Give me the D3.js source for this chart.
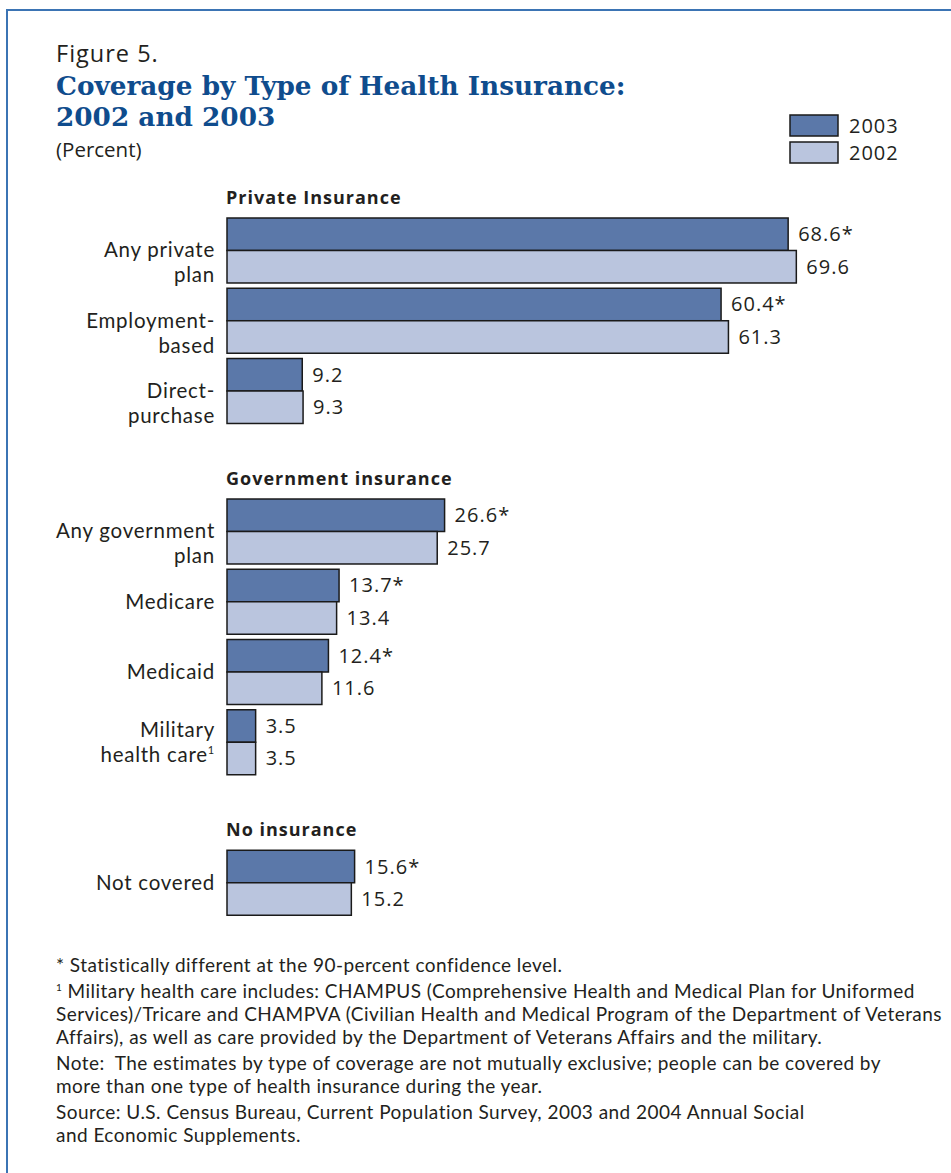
<!DOCTYPE html>
<html>
<head>
<meta charset="utf-8">
<script src="https://cdn.jsdelivr.net/npm/d3@7"></script>
<style>
  body { margin: 0; background: #fff; }
  svg { display: block; }
</style>
</head>
<body>
<svg id="chart" width="951" height="1173"></svg>
<script>
// data
const years = ['2003', '2002'];
const sections = ['Private Insurance', 'Government insurance', 'No insurance'];
const categories = ['Any private plan', 'Employment-based', 'Direct-purchase',
  'Any government plan', 'Medicare', 'Medicaid', 'Military health care', 'Not covered'];
const categorySection = [0, 0, 0, 1, 1, 1, 1, 2];
const values2003 = [68.6, 60.4, 9.2, 26.6, 13.7, 12.4, 3.5, 15.6];
const values2002 = [69.6, 61.3, 9.3, 25.7, 13.4, 11.6, 3.5, 15.2];
const signif2003 = [true, true, false, true, true, true, false, true];
const signif2002 = [false, false, false, false, false, false, false, false];

// how the category labels wrap
const labelLines = {
  'Any private plan': ['Any private', 'plan'],
  'Employment-based': ['Employment-', 'based'],
  'Direct-purchase': ['Direct-', 'purchase'],
  'Any government plan': ['Any government', 'plan'],
  'Medicare': ['Medicare'],
  'Medicaid': ['Medicaid'],
  'Military health care': ['Military', 'health care'],
  'Not covered': ['Not covered']
};

const footnotes = [
  {sup: '', text: '* Statistically different at the 90-percent confidence level.'},
  {sup: '1', text: ' Military health care includes: CHAMPUS (Comprehensive Health and Medical Plan for Uniformed'},
  {sup: '', text: 'Services)/Tricare and CHAMPVA (Civilian Health and Medical Program of the Department of Veterans'},
  {sup: '', text: 'Affairs), as well as care provided by the Department of Veterans Affairs and the military.'},
  {sup: '', text: 'Note:  The estimates by type of coverage are not mutually exclusive; people can be covered by'},
  {sup: '', text: 'more than one type of health insurance during the year.'},
  {sup: '', text: 'Source: U.S. Census Bureau, Current Population Survey, 2003 and 2004 Annual Social'},
  {sup: '', text: 'and Economic Supplements.'}
];
const footnoteY = [972, 998, 1021, 1044, 1070, 1093, 1119, 1142];

// colors
const DARK = '#5b78a9';
const LIGHT = '#bac5de';
const TITLE_BLUE = '#0f4c8d';
const BORDER = '#3b74b4';
const INK = '#231f20';

const SANS = '"Open Sans", "Noto Sans", sans-serif';
const TIGHT_SANS = 'Lato, "Open Sans", sans-serif';
const SERIF = '"DejaVu Serif", serif';

const svg = d3.select('#chart');

// build rows with a header slot before each section
const rows = categories.map((c, i) => ({
  name: c,
  section: categorySection[i],
  values: [
    {year: '2003', v: values2003[i], sig: signif2003[i]},
    {year: '2002', v: values2002[i], sig: signif2002[i]}
  ]
}));
const slots = [];
sections.forEach((s, si) => {
  slots.push('hdr:' + s);
  rows.filter(r => r.section === si).forEach(r => slots.push(r.name));
});

// scales
const x = d3.scaleLinear().domain([0, 100]).range([227, 1045]);
const y = d3.scaleBand().domain(slots).range([147.75, 915.25]).paddingInner(0.075).paddingOuter(0);
const yInner = d3.scaleBand().domain(years).range([0, y.bandwidth()]);
const color = d3.scaleOrdinal().domain(years).range([DARK, LIGHT]);

// border (top and left only)
svg.append('line').attr('x1', 6).attr('x2', 951).attr('y1', 10).attr('y2', 10)
  .attr('stroke', BORDER).attr('stroke-width', 2);
svg.append('line').attr('x1', 7).attr('x2', 7).attr('y1', 10).attr('y2', 1173)
  .attr('stroke', BORDER).attr('stroke-width', 2);

// titles
svg.append('text').attr('x', 56).attr('y', 62)
  .style('font-family', SANS).style('font-size', '23.5px').style('letter-spacing', '1px')
  .style('fill', INK).text('Figure 5.');
svg.append('text').attr('x', 56).attr('y', 95)
  .style('font-family', SERIF).style('font-weight', 'bold').style('font-size', '26.3px')
  .style('fill', TITLE_BLUE).text('Coverage by Type of Health Insurance:');
svg.append('text').attr('x', 56).attr('y', 126)
  .style('font-family', SERIF).style('font-weight', 'bold').style('font-size', '26.3px')
  .style('fill', TITLE_BLUE).text('2002 and 2003');
svg.append('text').attr('x', 56).attr('y', 157)
  .style('font-family', SANS).style('font-size', '20.5px')
  .style('fill', INK).text('(Percent)');

// legend
const legend = svg.append('g').selectAll('g').data(years).join('g')
  .attr('transform', (d, i) => `translate(790, ${115 + i * 27})`);
legend.append('rect').attr('width', 48).attr('height', 21)
  .attr('fill', d => color(d)).attr('stroke', '#1a1a1a').attr('stroke-width', 1.5);
legend.append('text').attr('x', 59).attr('y', 18)
  .style('font-family', SANS).style('font-size', '20px').style('letter-spacing', '1px')
  .style('fill', INK).text(d => d);

// section headers
svg.append('g').selectAll('text').data(sections).join('text')
  .attr('x', x(0) - 1)
  .attr('y', d => y('hdr:' + d) + y.bandwidth() - 9)
  .style('font-family', SANS).style('font-weight', 'bold').style('font-size', '18px')
  .style('letter-spacing', '1px').style('fill', INK)
  .text(d => d);

// bar groups
const groups = svg.append('g').selectAll('g').data(rows).join('g')
  .attr('transform', d => `translate(0, ${y(d.name)})`);

groups.selectAll('rect').data(d => d.values).join('rect')
  .attr('x', x(0))
  .attr('y', d => yInner(d.year))
  .attr('width', d => x(d.v) - x(0))
  .attr('height', yInner.bandwidth())
  .attr('fill', d => color(d.year))
  .attr('stroke', '#1a1a1a')
  .attr('stroke-width', 1.5);

groups.selectAll('text.val').data(d => d.values).join('text')
  .attr('class', 'val')
  .attr('x', d => x(d.v) + 10)
  .attr('y', d => yInner(d.year) + yInner.bandwidth() / 2 + 7)
  .style('font-family', SANS).style('font-size', '20px').style('letter-spacing', '1px')
  .style('fill', INK)
  .text(d => d.v.toFixed(1) + (d.sig ? '*' : ''));

// category labels, one text per line, right aligned at the axis
groups.each(function (d) {
  const g = d3.select(this);
  const lines = labelLines[d.name];
  const mid = y.bandwidth() / 2 + 7;
  // the military label is centered on the group, the others start on the middle
  const start = d.name === 'Military health care' ? mid - 12 : mid;
  lines.forEach((line, i) => {
    const t = g.append('text')
      .attr('class', 'cat')
      .attr('x', x(0) - 12)
      .attr('y', start + i * 25)
      .attr('text-anchor', 'end')
      .style('font-family', TIGHT_SANS).style('font-size', '20.5px')
      .style('fill', INK)
      .text(line);
    if (d.name === 'Military health care' && i === 1) {
      t.text(null);
      t.append('tspan').text(line);
      t.append('tspan').attr('dy', -8).style('font-size', '11px').text('1');
    }
  });
});
// "Any government" spans 159px in the figure; track the labels to match
const catLabels = svg.selectAll('text.cat');
const govLabel = catLabels.filter(function () { return this.textContent === 'Any government'; }).node();
const catSpacing = (159 - govLabel.getComputedTextLength()) / 'Any government'.length;
catLabels.style('letter-spacing', catSpacing + 'px');

// footnotes
const notes = svg.append('g').selectAll('text').data(footnotes).join('text')
  .attr('x', 56)
  .attr('y', (d, i) => footnoteY[i])
  .style('font-family', TIGHT_SANS).style('font-size', '19px')
  .style('white-space', 'pre')
  .style('fill', INK);
notes.each(function (d) {
  const t = d3.select(this);
  if (d.sup) {
    t.append('tspan').attr('dy', -7).style('font-size', '10px').text(d.sup);
    t.append('tspan').attr('dy', 7).text(d.text);
  } else {
    t.text(d.text);
  }
});
// widest line ("Services)/Tricare ...") runs to x = 942 in the figure
const widest = notes.filter((d, i) => i === 2).node();
const spacing = (886 - widest.getComputedTextLength()) / footnotes[2].text.length;
notes.style('letter-spacing', spacing + 'px');
</script>
</body>
</html>
